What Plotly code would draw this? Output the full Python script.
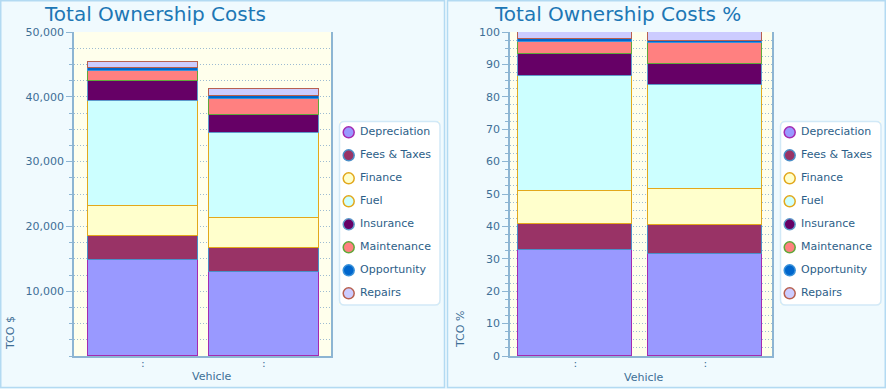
import plotly.graph_objects as go

# ---- data ----
vehicles = ["v1", "v2"]
vehicle_labels = [":", ":"]
categories = ["Depreciation", "Fees & Taxes", "Finance", "Fuel",
              "Insurance", "Maintenance", "Opportunity", "Repairs"]
depreciation = [14800, 12910]
fees_taxes = [3770, 3710]
finance = [4530, 4630]
fuel = [16200, 13110]
insurance = [3090, 2780]
maintenance = [1640, 2570]
opportunity = [370, 360]
repairs = [1020, 1080]

series = [depreciation, fees_taxes, finance, fuel, insurance, maintenance, opportunity, repairs]
fills = ["#9999FF", "#993366", "#FFFFCC", "#CCFFFF", "#660066", "#FF8080", "#0066CC", "#CCCCFF"]
lines = ["#A52AB0", "#4A8FC8", "#E2A81C", "#E2A81C", "#5E9ACB", "#5FA83A", "#3A92DA", "#B8604F"]

totals = [sum(s[i] for s in series) for i in range(len(vehicles))]

W, H = 886, 389
def px(x): return x / W
def py(y): return 1 - y / H

fig = go.Figure()

for name, vals, fc, lc in zip(categories, series, fills, lines):
    fig.add_trace(go.Bar(x=vehicles, y=vals, name=name, marker=dict(color=fc, line=dict(color=lc, width=1.5)),
                         width=0.91, xaxis="x", yaxis="y", showlegend=False))
    pct = [v / t * 100 for v, t in zip(vals, totals)]
    fig.add_trace(go.Bar(x=vehicles, y=pct, name=name, marker=dict(color=fc, line=dict(color=lc, width=1.5)),
                         width=0.877, xaxis="x2", yaxis="y2", showlegend=False))

axis_col = "#8DB5D3"
tick_col = "#3E6F96"
grid_col = "#9DBBD2"
font_fam = "DejaVu Sans"
leg_col = "#2C5E88"

# legend panels drawn as scatter markers + text on hidden axes
idx = list(range(len(categories)))
for xa, ya in (("x3", "y3"), ("x4", "y4")):
    fig.add_trace(go.Scatter(x=[0] * len(categories), y=idx, mode="markers+text",
                             text=[" " + c for c in categories],
                             textposition="middle right", showlegend=False, cliponaxis=False,
                             textfont=dict(family=font_fam, size=11, color=leg_col),
                             marker=dict(symbol="circle", size=11, color=fills, line=dict(color=lines, width=1.5)),
                             xaxis=xa, yaxis=ya))

def yax(anchor, rng, tickvals, ticktext, minor):
    return dict(range=rng, showline=True, linecolor=axis_col, linewidth=1.5, mirror=True,
                ticks="outside", ticklen=6, tickcolor=axis_col, tickvals=tickvals, ticktext=ticktext,
                tickfont=dict(family=font_fam, size=11, color=tick_col),
                showgrid=True, gridcolor=grid_col, griddash="1px,2px", gridwidth=1,
                minor=dict(dtick=minor, showgrid=True, gridcolor=grid_col, griddash="1px,2px",
                           ticks="outside", ticklen=3, tickcolor=axis_col),
                zeroline=False, domain=[py(356), py(32)], anchor=anchor, automargin=False)

def xax(dom, rng, anchor):
    return dict(domain=dom, range=rng, type="category", tickvals=vehicles, ticktext=vehicle_labels,
                showline=True, linecolor=axis_col, linewidth=2, ticks="", showgrid=False,
                ticklabelstandoff=-4,
                tickfont=dict(family=font_fam, size=11, color=tick_col), anchor=anchor, zeroline=False,
                automargin=False)

def hidden(dom, rng, anchor):
    return dict(domain=dom, range=rng, visible=False, showgrid=False, zeroline=False, anchor=anchor,
                automargin=False)

def rounded(x0, y0, x1, y1, r=5):
    X0, X1 = px(x0), px(x1)
    Y0, Y1 = py(y1), py(y0)
    rx, ry = r / W, r / H
    return (f"M {X0+rx},{Y1} L {X1-rx},{Y1} Q {X1},{Y1} {X1},{Y1-ry} L {X1},{Y0+ry} "
            f"Q {X1},{Y0} {X1-rx},{Y0} L {X0+rx},{Y0} Q {X0},{Y0} {X0},{Y0+ry} "
            f"L {X0},{Y1-ry} Q {X0},{Y1} {X0+rx},{Y1} Z")

# legend axes: 1 unit = 1 px horizontally; item i centred 11.3 + 23*i px below box top
leg_h = 305 - 121
fig.update_layout(
    width=W, height=H, margin=dict(l=0, r=0, t=0, b=0, autoexpand=False),
    paper_bgcolor="#F0FAFE", plot_bgcolor="#FFFFEC",
    barmode="stack", bargap=0,
    xaxis=xax([px(74), px(331)], [-0.57, 1.554], "y"),
    yaxis=yax("x", [0, 50000], [10000, 20000, 30000, 40000, 50000],
              ["10,000", "20,000", "30,000", "40,000", "50,000"], 2500),
    xaxis2=xax([px(510), px(772)], [-0.502, 1.513], "y2"),
    yaxis2=yax("x2", [0, 100], list(range(0, 101, 10)), [str(v) for v in range(0, 101, 10)], 2.5),
    xaxis3=hidden([px(339), px(440)], [-9.7, 91.3], "y3"),
    yaxis3=hidden([py(305), py(121)], [(leg_h - 11.3) / 23, -11.3 / 23], "x3"),
    xaxis4=hidden([px(780), px(881)], [-9.7, 91.3], "y4"),
    yaxis4=hidden([py(305), py(121)], [(leg_h - 11.3) / 23, -11.3 / 23], "x4"),
    shapes=[
        dict(type="rect", xref="paper", yref="paper", x0=px(0.75), x1=px(444.5), y0=py(387.5), y1=py(0.75),
             line=dict(color="#B3DAF2", width=1.5), fillcolor="rgba(0,0,0,0)", layer="below"),
        dict(type="rect", xref="paper", yref="paper", x0=px(447.5), x1=px(885.25), y0=py(387.5), y1=py(0.75),
             line=dict(color="#B3DAF2", width=1.5), fillcolor="rgba(0,0,0,0)", layer="below"),
        dict(type="path", xref="paper", yref="paper", path=rounded(339.5, 121.5, 440, 305),
             line=dict(color="#D2E9F7", width=1.5), fillcolor="#FFFFFF", layer="below"),
        dict(type="path", xref="paper", yref="paper", path=rounded(780.5, 121.5, 881, 305),
             line=dict(color="#D2E9F7", width=1.5), fillcolor="#FFFFFF", layer="below"),
    ],
    annotations=[
        dict(text="Total Ownership Costs", x=px(42), y=py(14), xref="paper", yref="paper",
             xanchor="left", yanchor="middle", showarrow=False,
             font=dict(family=font_fam, size=20, color="#1D77B5")),
        dict(text="Total Ownership Costs %", x=px(492), y=py(14), xref="paper", yref="paper",
             xanchor="left", yanchor="middle", showarrow=False,
             font=dict(family=font_fam, size=20, color="#1D77B5")),
        dict(text="TCO $", x=px(10), y=py(333), xref="paper", yref="paper", textangle=-90,
             xanchor="center", yanchor="middle", showarrow=False,
             font=dict(family=font_fam, size=11, color=tick_col)),
        dict(text="TCO %", x=px(460), y=py(330), xref="paper", yref="paper", textangle=-90,
             xanchor="center", yanchor="middle", showarrow=False,
             font=dict(family=font_fam, size=11, color=tick_col)),
        dict(text="Vehicle", x=px(212), y=py(376), xref="paper", yref="paper",
             xanchor="center", yanchor="middle", showarrow=False,
             font=dict(family=font_fam, size=11, color=tick_col)),
        dict(text="Vehicle", x=px(644), y=py(377), xref="paper", yref="paper",
             xanchor="center", yanchor="middle", showarrow=False,
             font=dict(family=font_fam, size=11, color=tick_col)),
    ],
)

fig.write_html("out.html", config={"displayModeBar": False},
               post_script="document.body.style.margin='0';document.body.style.padding='0';")
